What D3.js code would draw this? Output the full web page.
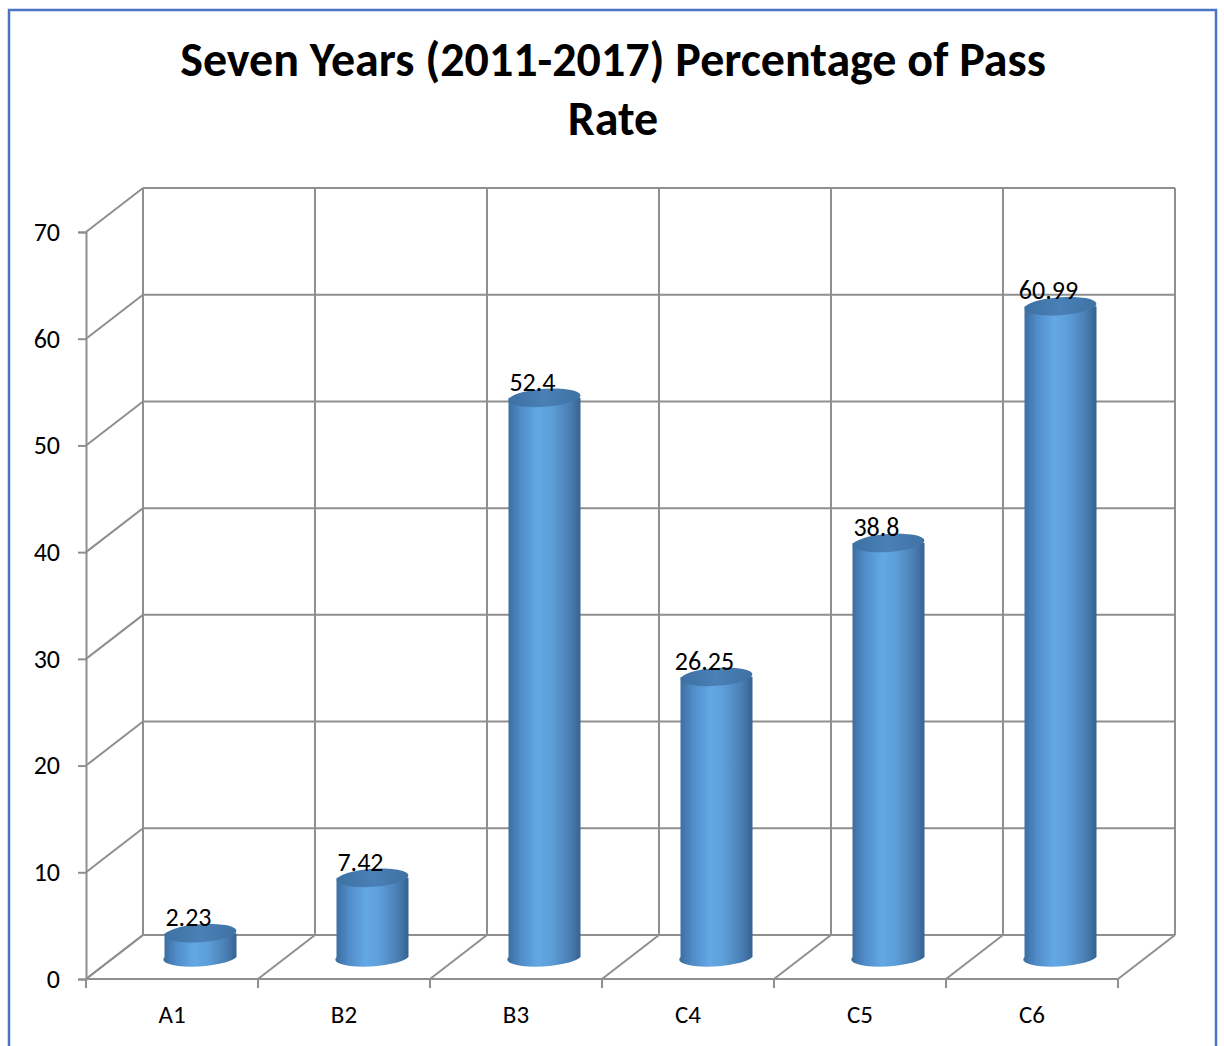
<!DOCTYPE html>
<html>
<head>
<meta charset="utf-8">
<script src="https://cdn.jsdelivr.net/npm/d3@7"></script>
<style>
  html, body { margin: 0; padding: 0; background: #fff; }
  svg { display: block; }
  text { font-family: Calibri, Carlito, Lato, "Open Sans", sans-serif; fill: #000; }
</style>
</head>
<body>
<svg id="chart" width="1224" height="1046"></svg>
<script>
// Pass rate by grade, 2011-2017
const categories = ["A1", "B2", "B3", "C4", "C5", "C6"];
const values = [2.23, 7.42, 52.4, 26.25, 38.8, 60.99];
const valueLabels = ["2.23", "7.42", "52.4", "26.25", "38.8", "60.99"];
const yTicks = [0, 10, 20, 30, 40, 50, 60, 70];
const titleLines = ["Seven Years (2011-2017) Percentage of Pass", "Rate"];

const svg = d3.select("#chart");
const W = 1224, H = 1046;

// outer chart border
svg.append("rect")
  .attr("x", 9).attr("y", 10).attr("width", 1207).attr("height", H)
  .attr("fill", "#fff").attr("stroke", "#4a74c4").attr("stroke-width", 2.5);

// title
svg.append("g").selectAll("text").data(titleLines).join("text")
  .attr("x", 613).attr("y", (d, i) => 76 + i * 59)
  .attr("text-anchor", "middle")
  .attr("font-size", 48).attr("font-weight", 700)
  .text(d => d);

// 3D frame: front plane scales plus a depth offset to the back wall
const depth = { dx: 57, dy: -44 };
const x = d3.scaleBand().domain(categories).range([86, 1118]).padding(0);
const y = d3.scaleLinear().domain([0, 70]).range([979, 232]);
const xEdges = d3.range(categories.length + 1).map(i => 86 + i * x.bandwidth());

const gridColor = "#8f8f8f";
const grid = svg.append("g").attr("stroke", gridColor).attr("stroke-width", 2).attr("fill", "none");

// back wall horizontal gridlines
grid.selectAll("line.bh").data(yTicks).join("line")
  .attr("x1", 86 + depth.dx).attr("x2", 1118 + depth.dx)
  .attr("y1", d => y(d) + depth.dy).attr("y2", d => y(d) + depth.dy);

// back wall vertical gridlines (category boundaries)
grid.selectAll("line.bv").data(xEdges).join("line")
  .attr("x1", d => d + depth.dx).attr("x2", d => d + depth.dx)
  .attr("y1", y(0) + depth.dy).attr("y2", y(70) + depth.dy);

// side wall diagonals
grid.selectAll("line.sd").data(yTicks).join("line")
  .attr("x1", 86).attr("y1", d => y(d))
  .attr("x2", 86 + depth.dx).attr("y2", d => y(d) + depth.dy);

// floor diagonals
grid.selectAll("line.fd").data(xEdges).join("line")
  .attr("x1", d => d).attr("y1", y(0))
  .attr("x2", d => d + depth.dx).attr("y2", y(0) + depth.dy);

// front axes
const axisG = svg.append("g");
const yAxis = d3.axisLeft(y).tickValues(yTicks).tickSize(8).tickPadding(18);
axisG.append("g").attr("transform", "translate(86,0)").call(yAxis)
  .call(g => g.select(".domain").attr("stroke", gridColor).attr("stroke-width", 2))
  .call(g => g.selectAll(".tick line").attr("stroke", gridColor).attr("stroke-width", 2))
  .call(g => g.selectAll(".tick text").attr("font-size", 26).attr("font-family", null).attr("fill", "#000"));

axisG.append("line")
  .attr("x1", 86).attr("x2", 1118).attr("y1", y(0)).attr("y2", y(0))
  .attr("stroke", gridColor).attr("stroke-width", 2);
axisG.selectAll("line.xt").data(xEdges).join("line")
  .attr("x1", d => d).attr("x2", d => d).attr("y1", y(0)).attr("y2", y(0) + 9)
  .attr("stroke", gridColor).attr("stroke-width", 2);
axisG.selectAll("text.xl").data(categories).join("text")
  .attr("x", d => x(d) + x.bandwidth() / 2)
  .attr("y", 1023)
  .attr("text-anchor", "middle").attr("font-size", 25)
  .text(d => d);

// cylinder shading
const defs = svg.append("defs");
const bodyGrad = defs.append("linearGradient").attr("id", "cylBody")
  .attr("x1", "0%").attr("x2", "100%").attr("y1", "0%").attr("y2", "0%");
[["0%", "#3b6b9c"], ["18%", "#4f8cc8"], ["42%", "#63a8e4"], ["60%", "#5d9fd9"], ["85%", "#4a7fb4"], ["100%", "#36628f"]]
  .forEach(([o, c]) => bodyGrad.append("stop").attr("offset", o).attr("stop-color", c));
const capGrad = defs.append("linearGradient").attr("id", "cylTop")
  .attr("x1", "0%").attr("x2", "100%").attr("y1", "0%").attr("y2", "0%");
[["0%", "#3e71a3"], ["50%", "#4a80b6"], ["100%", "#3f72a4"]]
  .forEach(([o, c]) => capGrad.append("stop").attr("offset", o).attr("stop-color", c));

// cylinders sit half way into the depth
const rx = 36, ry = 9, tilt = -4;
const cx = d => x(d) + x.bandwidth() / 2 + depth.dx / 2;
const baseY = y(0) + depth.dy / 2;
const topY = v => y(v) + depth.dy / 2;

const bars = svg.append("g").selectAll("g").data(categories.map((c, i) => ({ c, v: values[i], label: valueLabels[i] })))
  .join("g");

bars.append("path")
  .attr("fill", "url(#cylBody)")
  .attr("d", d => {
    const x0 = cx(d.c) - rx, x1 = cx(d.c) + rx, yt = topY(d.v);
    return `M${x0},${yt} L${x0},${baseY} A${rx},${ry} ${tilt} 0 0 ${x1},${baseY} L${x1},${yt} Z`;
  });

bars.append("ellipse")
  .attr("cx", d => cx(d.c)).attr("cy", d => topY(d.v))
  .attr("rx", rx).attr("ry", ry)
  .attr("transform", d => `rotate(${tilt},${cx(d.c)},${topY(d.v)})`)
  .attr("fill", "url(#cylTop)");

// value labels
bars.append("text")
  .attr("x", d => cx(d.c) - 12)
  .attr("y", d => topY(d.v) - 7)
  .attr("text-anchor", "middle").attr("font-size", 26)
  .text(d => d.label);
</script>
</body>
</html>
